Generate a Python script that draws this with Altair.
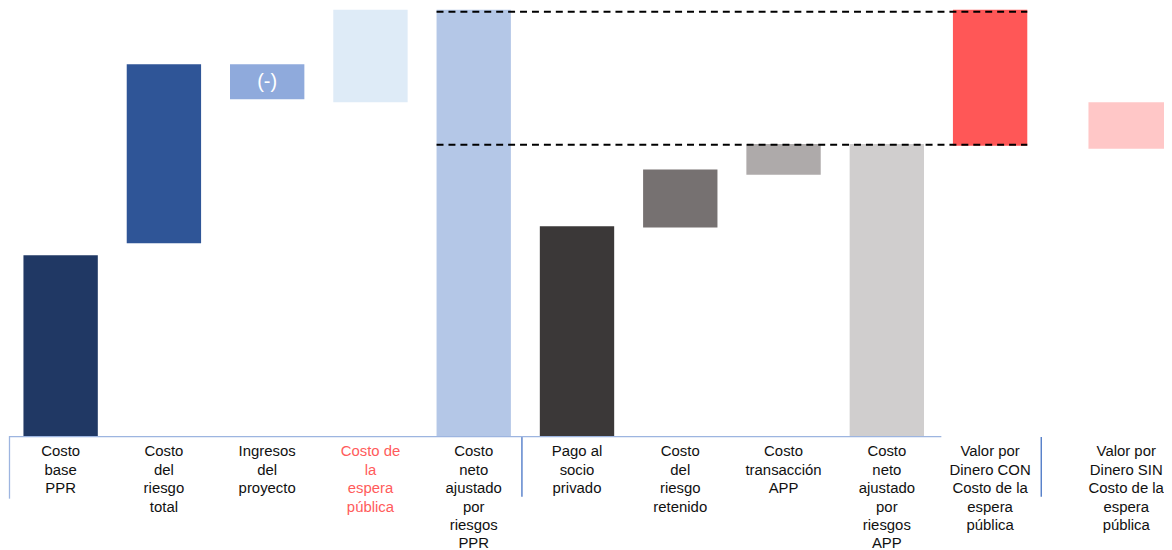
import altair as alt
import pandas as pd

# Category labels ("|" marks a line break in the axis label)
categories = [
    "Costo|base|PPR",
    "Costo|del|riesgo|total",
    "Ingresos|del|proyecto",
    "Costo de|la|espera|pública",
    "Costo|neto|ajustado|por|riesgos|PPR",
    "Pago al|socio|privado",
    "Costo|del|riesgo|retenido",
    "Costo|transacción|APP",
    "Costo|neto|ajustado|por|riesgos|APP",
    "Valor por|Dinero CON|Costo de la|espera|pública",
    "Valor por|Dinero SIN|Costo de la|espera|pública",
]
# Floating (waterfall) bar ranges, index units (0-100)
starts = [0, 45.2, 79.0, 78.3, 0, 0, 48.9, 61.3, 0, 68.1, 67.4]
ends = [42.4, 87.2, 87.2, 100, 100, 49.2, 62.5, 68.5, 68.5, 100, 78.3]
# Reference (dashed) levels
ref_levels = [99.5, 68.3]
bar_note = "(-)"

# Styles
colors = ["#203864", "#2F5597", "#8FAADC", "#DEEBF7", "#B4C7E7",
          "#3B3838", "#767171", "#AEAAAA", "#D0CECE", "#FF5757", "#FFC7C7"]
red_label = categories[3]

df = pd.DataFrame({"cat": categories, "start": starts, "end": ends})
main_cats = categories[:10]
side_cats = categories[10:]
df_main = df[df["cat"].isin(main_cats)]
df_side = df[df["cat"].isin(side_cats)]

y_scale = alt.Scale(domain=[0, 100], nice=False, zero=False)
color_scale = alt.Scale(domain=categories, range=colors)
x_main_scale = alt.Scale(domain=main_cats, paddingInner=0.28, paddingOuter=0.14)
x_side_scale = alt.Scale(domain=side_cats, paddingInner=0, paddingOuter=0)


def make_axis():
    return alt.Axis(
        title=None, labelAngle=0, labelExpr="split(datum.label, '|')",
        labelFont="Liberation Sans", labelFontSize=15, labelLineHeight=18.5,
        labelBaseline="top", labelPadding=8, ticks=False, domain=False,
        labelOverlap=False, labelLimit=200,
        labelColor={"condition": {"test": f"datum.value == '{red_label}'", "value": "#FF5B5B"},
                    "value": "#111111"},
    )


bars = alt.Chart(df_main).mark_bar().encode(
    x=alt.X("cat:N", scale=x_main_scale, axis=make_axis(), sort=None, title=None),
    y=alt.Y("start:Q", scale=y_scale, axis=None),
    y2="end:Q",
    color=alt.Color("cat:N", scale=color_scale, legend=None),
)

df_note = pd.DataFrame({"cat": [categories[2]], "mid": [(starts[2] + ends[2]) / 2], "txt": [bar_note]})
note = alt.Chart(df_note).mark_text(color="white", fontSize=20, font="Liberation Sans",
                                    baseline="middle").encode(
    x=alt.X("cat:N", scale=x_main_scale, axis=make_axis(), title=None),
    y=alt.Y("mid:Q", scale=y_scale, axis=None),
    text="txt:N",
)

df_dash = pd.DataFrame({"cat": [categories[4]] * 2, "c2": [categories[9]] * 2, "lvl": ref_levels})
dashes = alt.Chart(df_dash).mark_rule(color="black", strokeWidth=2, strokeDash=[7, 5]).encode(
    x=alt.X("cat:N", scale=x_main_scale, bandPosition=0, axis=make_axis(), title=None),
    x2=alt.X2("c2", bandPosition=1),
    y=alt.Y("lvl:Q", scale=y_scale, axis=None),
)

df_sep = pd.DataFrame({"cat": [categories[5]]})
sep = alt.Chart(df_sep).mark_rule(color="#4472C4", strokeWidth=1.3, xOffset=-18).encode(
    x=alt.X("cat:N", scale=x_main_scale, bandPosition=0, axis=make_axis(), title=None),
    y=alt.value(429),
    y2=alt.value(490),
)

one = pd.DataFrame({"k": [0]})
base_line = alt.Chart(one).mark_rule(color="#9DB5E0", strokeWidth=1.3).encode(
    x=alt.value(0), x2=alt.value(938), y=alt.value(429.5))
left_line = alt.Chart(one).mark_rule(color="#9DB5E0", strokeWidth=1.3).encode(
    x=alt.value(0.5), y=alt.value(429), y2=alt.value(492))
right_line = alt.Chart(one).mark_rule(color="#4472C4", strokeWidth=1.3).encode(
    x=alt.value(1038.5), y=alt.value(430), y2=alt.value(490))

left = alt.layer(bars, note, dashes, sep, base_line, left_line, right_line).properties(
    width=1039, height=429)

side_bars = alt.Chart(df_side).mark_bar().encode(
    x=alt.X("cat:N", scale=x_side_scale, axis=make_axis(), sort=None, title=None),
    y=alt.Y("start:Q", scale=y_scale, axis=None),
    y2="end:Q",
    color=alt.Color("cat:N", scale=color_scale, legend=None),
)
right = side_bars.properties(width=76, height=429)

chart = alt.hconcat(left, right, spacing=45).properties(padding=0).configure_view(
    stroke=None).configure_axis(grid=False)

chart.save("out.html", embed_options={"renderer": "svg", "actions": False})
